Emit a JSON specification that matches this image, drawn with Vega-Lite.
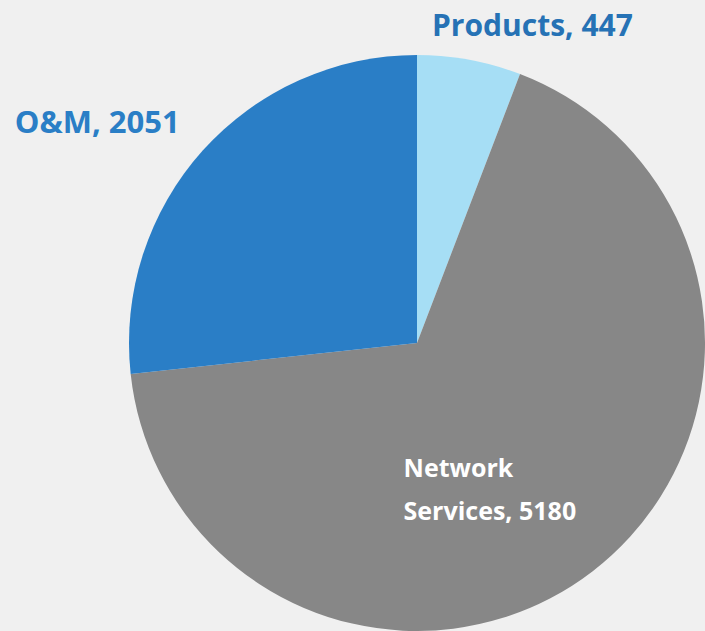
{
  "$schema": "https://vega.github.io/schema/vega-lite/v6.json",
  "width": 576,
  "height": 576,
  "autosize": {"type": "none"},
  "padding": {"left": 129, "top": 55, "right": 0, "bottom": 0},
  "background": "#f0f0f0",
  "config": {"view": {"stroke": null}},
  "data": {
    "values": [
      {"category": "Products", "value": 447, "rank": 1, "label": "Products, 447"},
      {"category": "Network Services", "value": 5180, "rank": 2, "label": "Network\nServices, 5180"},
      {"category": "O&M", "value": 2051, "rank": 3, "label": "O&M, 2051"}
    ]
  },
  "encoding": {
    "theta": {"field": "value", "type": "quantitative", "stack": true},
    "order": {"field": "rank", "type": "quantitative"}
  },
  "layer": [
    {
      "mark": {"type": "arc", "radius": 288},
      "encoding": {
        "color": {
          "field": "category",
          "type": "nominal",
          "scale": {"domain": ["Products", "Network Services", "O&M"], "range": ["#a6def5", "#878787", "#2a7ec6"]},
          "legend": null
        }
      }
    },
    {
      "mark": {"type": "text", "radius": 338, "dx": 54, "dy": 16, "font": "Open Sans", "fontWeight": "bold", "fontSize": 30, "color": "#2672b5"},
      "encoding": {
        "text": {"condition": {"test": "datum.category === 'Products'", "field": "label"}, "value": ""}
      }
    },
    {
      "mark": {"type": "text", "radius": 388, "dx": -31, "dy": 40, "font": "Open Sans", "fontWeight": "bold", "fontSize": 31, "color": "#2a7ec6"},
      "encoding": {
        "text": {"condition": {"test": "datum.category === 'O&M'", "field": "label"}, "value": ""}
      }
    },
    {
      "mark": {"type": "text", "radius": 155, "dx": -108, "dy": 11, "align": "left", "baseline": "alphabetic", "lineBreak": "\n", "lineHeight": 43, "font": "Open Sans", "fontWeight": "bold", "fontSize": 25, "color": "#ffffff"},
      "encoding": {
        "text": {"condition": {"test": "datum.category === 'Network Services'", "field": "label"}, "value": ""}
      }
    }
  ]
}
